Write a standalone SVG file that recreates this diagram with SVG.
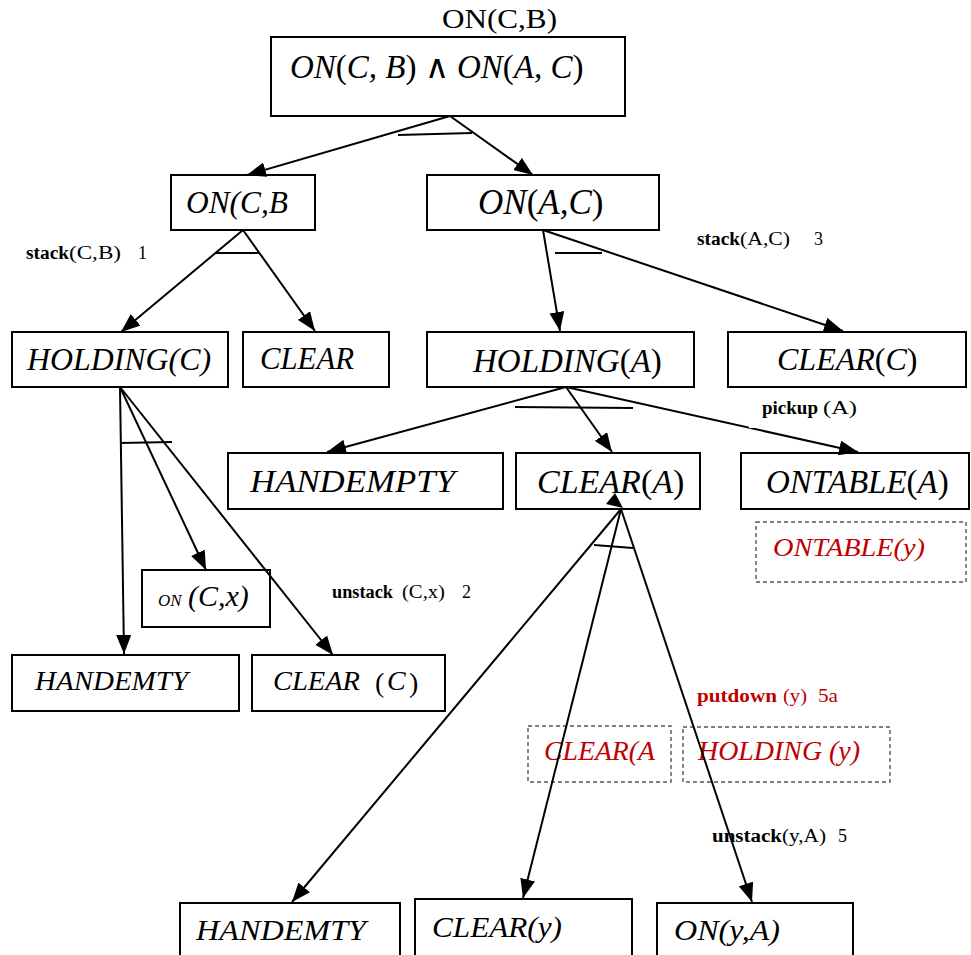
<svg xmlns="http://www.w3.org/2000/svg" width="971" height="955" viewBox="0 0 971 955">
  <style>
    .box { fill: #ffffff; stroke: #000000; stroke-width: 2; }
    .dbox { fill: none; stroke: #555555; stroke-width: 1.4; stroke-dasharray: 4 3; }
    .lbl { font-family: "Liberation Serif", serif; font-style: italic; fill: #000000; }
    .up { font-style: normal; }
    .op { font-family: "Liberation Serif", serif; font-size: 18px; fill: #000000; }
    .b { font-weight: bold; }
    .red { fill: #c00000; }
    .edge { stroke: #000000; stroke-width: 2; fill: none; }
    .arr { marker-end: url(#head); }
    .bar { stroke: #000000; stroke-width: 2; }
  </style>
  <defs>
    <marker id="head" markerUnits="userSpaceOnUse" markerWidth="19" markerHeight="15" refX="19" refY="7.5" orient="auto">
      <path d="M0,0 L19,7.5 L0,15 z" fill="#000000"/>
    </marker>
  </defs>
  <rect width="971" height="955" fill="#ffffff"/>

  <!-- goal caption -->
  <text x="442" y="28" font-family="Liberation Serif, serif" font-size="27" textLength="115" lengthAdjust="spacingAndGlyphs">ON(C,B)</text>

  <g id="goal">
    <rect class="box" x="271" y="37" width="354" height="79"/>
    <text class="lbl" x="290" y="78" font-size="33">ON<tspan class="up">(</tspan>C, B<tspan class="up">) ∧ </tspan>ON<tspan class="up">(</tspan>A, C<tspan class="up">)</tspan></text>
  </g>

  <g id="on-cb">
    <rect class="box" x="171" y="175" width="144" height="55"/>
    <text class="lbl" x="186" y="213" font-size="31" textLength="102" lengthAdjust="spacingAndGlyphs">ON(C,B</text>
  </g>
  <g id="on-ac">
    <rect class="box" x="427" y="175" width="232" height="55"/>
    <text class="lbl" x="478" y="214" font-size="35">ON<tspan class="up">(</tspan>A,C<tspan class="up">)</tspan></text>
  </g>

  <g id="holding-c">
    <rect class="box" x="12" y="332" width="216" height="55"/>
    <text class="lbl" x="27" y="370" font-size="31" textLength="184" lengthAdjust="spacingAndGlyphs">HOLDING(C)</text>
  </g>
  <g id="clear-1">
    <rect class="box" x="243" y="332" width="146" height="55"/>
    <text class="lbl" x="260" y="369" font-size="31" textLength="94" lengthAdjust="spacingAndGlyphs">CLEAR</text>
  </g>
  <g id="holding-a">
    <rect class="box" x="427" y="332" width="267" height="55"/>
    <text class="lbl" x="473" y="372" font-size="33">HOLDING<tspan class="up">(</tspan>A<tspan class="up">)</tspan></text>
  </g>
  <g id="clear-c">
    <rect class="box" x="728" y="332" width="238" height="55"/>
    <text class="lbl" x="777" y="370" font-size="32">CLEAR<tspan class="up">(</tspan>C<tspan class="up">)</tspan></text>
  </g>

  <g id="handempty">
    <rect class="box" x="228" y="453" width="275" height="56"/>
    <text class="lbl" x="250" y="492" font-size="32" textLength="205" lengthAdjust="spacingAndGlyphs">HANDEMPTY</text>
  </g>
  <g id="clear-a">
    <rect class="box" x="516" y="453" width="184" height="56"/>
    <text class="lbl" x="537" y="493" font-size="34">CLEAR<tspan class="up">(</tspan>A<tspan class="up">)</tspan></text>
  </g>
  <g id="ontable-a">
    <rect class="box" x="741" y="453" width="228" height="56"/>
    <text class="lbl" x="766" y="493" font-size="33">ONTABLE<tspan class="up">(</tspan>A<tspan class="up">)</tspan></text>
  </g>

  <g id="ontable-y">
    <rect class="dbox" x="756" y="522" width="210" height="60"/>
    <text class="lbl red" x="773" y="556" font-size="26" textLength="152" lengthAdjust="spacingAndGlyphs">ONTABLE(y)</text>
  </g>

  <g id="on-cx">
    <rect class="box" x="142" y="570" width="128" height="57"/>
    <text class="lbl" x="158" y="606" font-size="17">ON</text>
    <text class="lbl" x="188" y="606" font-size="30">(C,x)</text>
  </g>
  <g id="handemty-1">
    <rect class="box" x="12" y="655" width="227" height="56"/>
    <text class="lbl" x="35" y="690" font-size="28" textLength="153" lengthAdjust="spacingAndGlyphs">HANDEMTY</text>
  </g>
  <g id="clear-c2">
    <rect class="box" x="252" y="655" width="193" height="56"/>
    <text class="lbl" x="273" y="690" font-size="28" textLength="87" lengthAdjust="spacingAndGlyphs">CLEAR</text>
    <text class="lbl up" x="375" y="692" font-size="28">(</text>
    <text class="lbl" x="387" y="690" font-size="28">C</text>
    <text class="lbl up" x="409" y="692" font-size="28">)</text>
  </g>

  <g id="clear-a-dashed">
    <rect class="dbox" x="528" y="726" width="143" height="56"/>
    <text class="lbl red" x="544" y="760" font-size="28" textLength="111" lengthAdjust="spacingAndGlyphs">CLEAR(A</text>
  </g>
  <g id="holding-y">
    <rect class="dbox" x="683" y="727" width="207" height="55"/>
    <text class="lbl red" x="698" y="760" font-size="28" textLength="162" lengthAdjust="spacingAndGlyphs">HOLDING (y)</text>
  </g>

  <g id="handemty-2">
    <rect class="box" x="180" y="903" width="220" height="60"/>
    <text class="lbl" x="196" y="940" font-size="30" textLength="170" lengthAdjust="spacingAndGlyphs">HANDEMTY</text>
  </g>
  <g id="clear-y">
    <rect class="box" x="415" y="899" width="217" height="64"/>
    <text class="lbl" x="432" y="937" font-size="30" textLength="130" lengthAdjust="spacingAndGlyphs">CLEAR(y)</text>
  </g>
  <g id="on-ya">
    <rect class="box" x="657" y="903" width="196" height="60"/>
    <text class="lbl" x="674" y="940" font-size="30" textLength="106" lengthAdjust="spacingAndGlyphs">ON(y,A)</text>
  </g>

  <g id="connectors">
    <!-- goal split -->
    <line class="edge arr" x1="450" y1="116" x2="247" y2="175"/>
    <line class="edge arr" x1="450" y1="116" x2="533" y2="175"/>
    <line class="bar" x1="398" y1="135" x2="472" y2="133"/>
    <!-- ON(C,B) -->
    <line class="edge arr" x1="243" y1="230" x2="121" y2="332"/>
    <line class="edge arr" x1="243" y1="230" x2="315" y2="331"/>
    <line class="bar" x1="215" y1="253" x2="260" y2="253"/>
    <!-- ON(A,C) -->
    <line class="edge arr" x1="543" y1="230" x2="560" y2="331"/>
    <line class="edge arr" x1="543" y1="230" x2="843" y2="331"/>
    <line class="bar" x1="555" y1="253" x2="602" y2="253"/>
    <!-- HOLDING(C) -->
    <line class="edge arr" x1="120" y1="387" x2="124" y2="654"/>
    <line class="edge arr" x1="120" y1="387" x2="206" y2="570"/>
    <line class="edge arr" x1="120" y1="387" x2="333" y2="655"/>
    <line class="bar" x1="120" y1="443" x2="172" y2="442"/>
    <!-- HOLDING(A) -->
    <line class="edge arr" x1="566" y1="387" x2="327" y2="452"/>
    <line class="edge arr" x1="566" y1="387" x2="612" y2="452"/>
    <line class="edge arr" x1="566" y1="387" x2="858" y2="452"/>
    <line class="bar" x1="515" y1="407" x2="633" y2="408"/>
    <!-- CLEAR(A) -->
    <path d="M615,493 L606,504 L623,508 z" fill="#000000"/>
    <line class="edge arr" x1="621" y1="509" x2="292" y2="902"/>
    <line class="edge arr" x1="621" y1="509" x2="523" y2="898"/>
    <line class="edge arr" x1="621" y1="509" x2="752" y2="902"/>
    <line class="bar" x1="594" y1="545" x2="633" y2="548"/>
  </g>

  <!-- operator labels -->
  <text class="op" x="26" y="259"><tspan class="b" textLength="43" lengthAdjust="spacingAndGlyphs">stack</tspan><tspan textLength="52" lengthAdjust="spacingAndGlyphs">(C,B)</tspan><tspan x="138">1</tspan></text>
  <text class="op" x="697" y="245"><tspan class="b" textLength="43" lengthAdjust="spacingAndGlyphs">stack</tspan><tspan textLength="50" lengthAdjust="spacingAndGlyphs">(A,C)</tspan><tspan x="814">3</tspan></text>
  <rect x="749" y="389" width="141" height="39" fill="#ffffff"/>
  <text class="op" x="762" y="414"><tspan class="b" textLength="56" lengthAdjust="spacingAndGlyphs">pickup</tspan><tspan x="823" textLength="34" lengthAdjust="spacingAndGlyphs">(A)</tspan></text>
  <text class="op" x="332" y="598"><tspan class="b" textLength="61" lengthAdjust="spacingAndGlyphs">unstack</tspan><tspan x="402" textLength="43" lengthAdjust="spacingAndGlyphs">(C,x)</tspan><tspan x="462">2</tspan></text>
  <text class="op red" x="697" y="702"><tspan class="b" textLength="80" lengthAdjust="spacingAndGlyphs">putdown</tspan><tspan x="783" textLength="24" lengthAdjust="spacingAndGlyphs">(y)</tspan><tspan x="818" textLength="20" lengthAdjust="spacingAndGlyphs">5a</tspan></text>
  <text class="op" x="712" y="842"><tspan class="b" textLength="70" lengthAdjust="spacingAndGlyphs">unstack</tspan><tspan textLength="44" lengthAdjust="spacingAndGlyphs">(y,A)</tspan><tspan x="838">5</tspan></text>
</svg>
